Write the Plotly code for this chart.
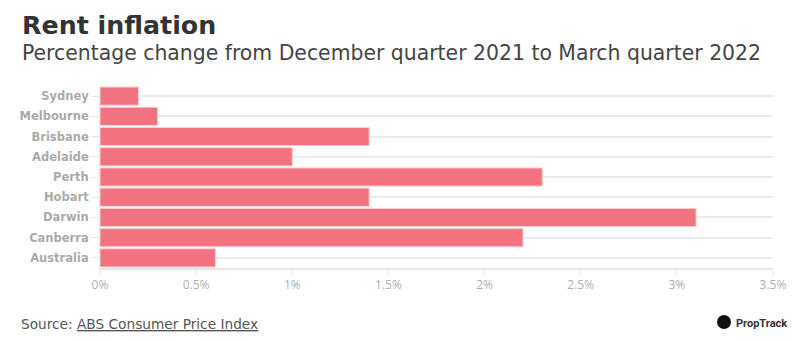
import plotly.graph_objects as go

cities = ["Sydney", "Melbourne", "Brisbane", "Adelaide", "Perth", "Hobart", "Darwin", "Canberra", "Australia"]
rent_change = [0.2, 0.3, 1.4, 1.0, 2.3, 1.4, 3.1, 2.2, 0.6]
x_tick_vals = [0, 0.5, 1, 1.5, 2, 2.5, 3, 3.5]
x_tick_text = ["0%", "0.5%", "1%", "1.5%", "2%", "2.5%", "3%", "3.5%"]

W, H = 800, 341
ML, MR, MT, MB = 100, 27, 86, 73
PH = H - MT - MB

def py(y):
    return (H - MB - y) / PH

def px(x):
    return (x - ML) / (W - ML - MR)

fig = go.Figure()
fig.add_trace(go.Bar(
    x=rent_change, y=cities, orientation="h",
    marker=dict(color="#F2727F", line=dict(color="#FBD3D7", width=1)),
    hoverinfo="x+y",
))

font = "DejaVu Sans"
fig.update_layout(
    width=W, height=H,
    margin=dict(l=ML, r=MR, t=MT, b=MB),
    paper_bgcolor="white", plot_bgcolor="white",
    bargap=0.1,
    showlegend=False,
    font=dict(family=font),
    xaxis=dict(
        range=[0, 3.5], tickvals=x_tick_vals, ticktext=x_tick_text,
        showgrid=False, zeroline=False,
        showline=True, linecolor="#e6e6e6", linewidth=1.5,
        ticks="outside", ticklen=5, tickcolor="#e6e6e6",
        tickfont=dict(family="Open Sans", size=12, color="#b0b0b0"),
        fixedrange=True,
    ),
    yaxis=dict(
        autorange="reversed", type="category",
        showgrid=True, gridcolor="#ebebeb", gridwidth=1.5,
        showline=True, linecolor="#e6e6e6", linewidth=1,
        ticks="outside", ticklen=8, tickcolor="#e6e6e6",
        tickfont=dict(family=font, size=11.5, color="#aaaaaa", weight="bold"),
        fixedrange=True,
    ),
    annotations=[
        dict(text="<b>Rent inflation</b>", x=px(20), y=py(25), xref="paper", yref="paper",
             xanchor="left", yanchor="middle", showarrow=False,
             font=dict(family=font, size=25.3, color="#333333")),
        dict(text="Percentage change from December quarter 2021 to March quarter 2022",
             x=px(20), y=py(53), xref="paper", yref="paper",
             xanchor="left", yanchor="middle", showarrow=False,
             font=dict(family=font, size=20.4, color="#444444")),
        dict(text="Source: <u>ABS Consumer Price Index</u>", x=px(19), y=py(324),
             xref="paper", yref="paper", xanchor="left", yanchor="middle", showarrow=False,
             font=dict(family=font, size=13.7, color="#555555")),
        dict(text="<b>PropTrack</b>", x=px(734), y=py(323),
             xref="paper", yref="paper", xanchor="left", yanchor="middle", showarrow=False,
             font=dict(family="Roboto", size=11, color="#333333")),
    ],
    shapes=[
        dict(type="circle", xref="paper", yref="paper", xsizemode="pixel", ysizemode="pixel",
             xanchor=px(724), yanchor=py(322), x0=-7, x1=7, y0=-7, y1=7,
             fillcolor="#111111", line=dict(width=0)),
    ],
)

fig.write_html("out.html")
